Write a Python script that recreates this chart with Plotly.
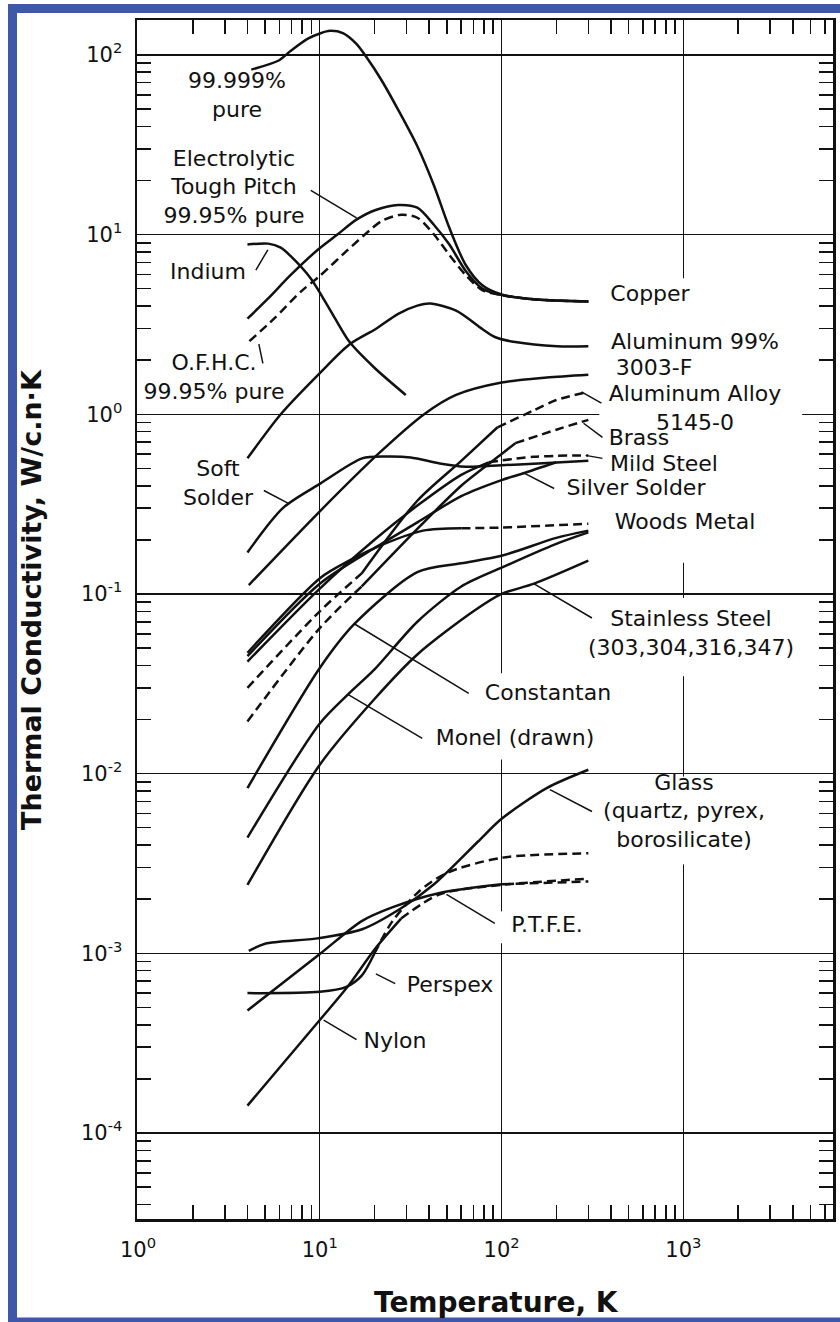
import numpy as np
import plotly.graph_objects as go

# ---------------- data: temperature T [K], conductivity k [W/cm K] ----------------
cu_pure_T = [4.2, 5.9, 6.9, 8.6, 10.1, 11.4, 13.4, 15.9, 18, 21.9, 27, 34.4, 42.5, 51.6, 63.5, 78.3, 100, 155, 300]
cu_pure_k = [82.8, 92.7, 105, 123, 132, 136, 132, 115, 97.5, 72, 49.4, 31, 18.7, 10.9, 6.77, 5.22, 4.64, 4.35, 4.24]

cu_etp_T = [4.0, 5.2, 6.9, 9.75, 12.5, 15.9, 20.3, 27, 34.4, 42.5, 51.6, 63.5, 78.3, 100, 155, 300]
cu_etp_k = [3.40, 4.41, 5.94, 8.23, 10.0, 12.1, 13.7, 14.6, 14.1, 11.3, 8.8, 6.27, 5.0, 4.6, 4.35, 4.24]

cu_ofhc_T = [4.1, 5.6, 7.9, 10.1, 14.1, 18.7, 21.9, 28, 34.4, 42.5, 51.6, 63.5, 78.3, 100, 155, 300]
cu_ofhc_k = [2.55, 3.40, 4.83, 5.94, 8.13, 10.5, 11.9, 12.9, 12.4, 10.0, 7.7, 5.94, 4.9, 4.6, 4.35, 4.24]

indium_T = [4.0, 5.2, 6.1, 6.9, 8.9, 11.9, 14.6, 19.9, 29.7]
indium_k = [8.8, 8.9, 8.45, 7.6, 5.71, 3.53, 2.52, 1.82, 1.28]

al99_T = [4.0, 6.1, 10.1, 14.6, 20.3, 27, 34.4, 40.4, 56.2, 78.3, 91.8, 119, 202, 300]
al99_k = [0.568, 1.0, 1.71, 2.45, 2.98, 3.62, 4.02, 4.13, 3.77, 2.98, 2.69, 2.52, 2.39, 2.39]

al3003_T = [4.07, 10.1, 21.1, 37.5, 56.2, 100, 177, 300]
al3003_k = [0.112, 0.291, 0.605, 1.0, 1.28, 1.50, 1.60, 1.66]

al5145_T = [4, 10, 17, 34.4, 60, 95, 150, 200, 300]
al5145_k = [0.030, 0.080, 0.13, 0.33, 0.55, 0.846, 1.05, 1.2, 1.33]

brass_T = [4, 10, 17, 34.4, 60, 100, 119, 200, 300]
brass_k = [0.0195, 0.0645, 0.11, 0.23, 0.40, 0.60, 0.69, 0.82, 0.93]

mild_steel_T = [4, 10, 20, 34.4, 60, 85, 150, 300]
mild_steel_k = [0.042, 0.107, 0.20, 0.31, 0.46, 0.54, 0.58, 0.59]

silver_solder_T = [4, 10, 20, 34.4, 60, 100, 131, 200]
silver_solder_k = [0.045, 0.114, 0.18, 0.25, 0.35, 0.43, 0.468, 0.54]

soft_solder_T = [4.0, 6.3, 10.1, 17.1, 23, 31.6, 45.7, 63.5, 100, 150, 300]
soft_solder_k = [0.17, 0.302, 0.412, 0.568, 0.582, 0.575, 0.532, 0.51, 0.52, 0.53, 0.55]

woods_T = [4, 10.1, 14.5, 20, 37, 60, 100, 300]
woods_k = [0.047, 0.123, 0.153, 0.18, 0.225, 0.232, 0.234, 0.246]

constantan_T = [4, 10, 15.5, 34.4, 60, 100, 200, 300]
constantan_k = [0.0083, 0.0387, 0.068, 0.132, 0.148, 0.163, 0.205, 0.225]

monel_T = [4, 10, 14.3, 20, 34.4, 60, 100, 200, 300]
monel_k = [0.0044, 0.019, 0.0276, 0.038, 0.07, 0.11, 0.14, 0.19, 0.22]

stainless_T = [4, 10, 20, 34.4, 70, 100, 151, 300]
stainless_k = [0.0024, 0.0112, 0.026, 0.046, 0.08, 0.1, 0.114, 0.153]

glass_T = [4.07, 5, 9.7, 17.1, 28, 42.5, 74.5, 100, 177, 300]
glass_k = [0.00103, 0.00113, 0.00121, 0.00136, 0.00178, 0.00242, 0.0042, 0.0056, 0.0083, 0.0105]

ptfe_T = [4, 10, 17, 25, 45, 100, 300]
ptfe_k = [0.00048, 0.00099, 0.00151, 0.0018, 0.00216, 0.00242, 0.00251]

perspex_T = [4, 10, 14, 17, 20, 25, 35, 50, 100, 300]
perspex_k = [0.0006, 0.00061, 0.00065, 0.00075, 0.0010, 0.0015, 0.0022, 0.0028, 0.0034, 0.0036]

nylon_T = [4, 10, 14.1, 20.3, 28, 45.7, 100, 300]
nylon_k = [0.000142, 0.000425, 0.000644, 0.00107, 0.00156, 0.00213, 0.0024, 0.0026]

curve_labels = ["99.999%<br>pure", "Electrolytic<br>Tough Pitch<br>99.95% pure", "Indium",
                "O.F.H.C.<br>99.95% pure", "Soft<br>Solder", "Copper", "Aluminum 99%", "3003-F",
                "Aluminum Alloy<br>5145-0", "Brass", "Mild Steel", "Silver Solder", "Woods Metal",
                "Stainless Steel<br>(303,304,316,347)", "Constantan", "Monel (drawn)",
                "Glass<br>(quartz, pyrex,<br>borosilicate)", "P.T.F.E.", "Perspex", "Nylon"]

x_tick_vals = [1, 10, 100, 1000]
x_tick_text = ["10<sup>0</sup>", "10<sup>1</sup>", "10<sup>2</sup>", "10<sup>3</sup>"]
y_tick_vals = [1e-4, 1e-3, 1e-2, 1e-1, 1, 10, 100]
y_tick_text = ["10<sup>-4</sup>", "10<sup>-3</sup>", "10<sup>-2</sup>", "10<sup>-1</sup>",
               "10<sup>0</sup>", "10<sup>1</sup>", "10<sup>2</sup>"]

# ---------------- layout geometry / styles ----------------
W, H = 840, 1322
X0, X1, Y0, Y1 = 137, 833, 20, 1219          # plot frame in pixels
XR = [-0.0055, 3.823]
YR = [-4.479, 2.194]
INK = "#111111"
FONT = "DejaVu Sans"
LABEL_SIZE = 22

# label centre positions (pixels) -- same order as curve_labels
label_pos = [(237, 97), (234, 189), (208, 273), (214, 379), (218, 485), (650, 295), (695, 343),
             (654, 369), (695, 410), (639, 439), (664, 465), (636, 489), (685, 523), (691, 635),
             (548, 694), (515, 739), (684, 813), (547, 926), (450, 986), (395, 1042)]

# reference grid positions (pixel -> decade) used to place leader lines on curves
REF_XP = [137, 319, 507, 680]
REF_XD = [0, 1, 2, 3]
REF_YP = [54, 237, 414, 593, 772, 952, 1135]
REF_YD = [2, 1, 0, -1, -2, -3, -4]


def ref_to_data(px, py):
    lx = np.interp(px, REF_XP, REF_XD)
    if px > REF_XP[-1]:
        lx = 3 + (px - REF_XP[-1]) / 173.0
    ly = np.interp(py, REF_YP, REF_YD)
    return float(10 ** lx), float(10 ** ly)


def px_to_axis(px, py):
    lx = XR[0] + (px - X0) / (X1 - X0) * (XR[1] - XR[0])
    ly = YR[1] - (py - Y0) / (Y1 - Y0) * (YR[1] - YR[0])
    return float(10 ** lx), float(10 ** ly)


def paper(px, py):
    return (px - X0) / (X1 - X0), (Y1 - py) / (Y1 - Y0)


# (T, k, dashed below this T, dashed above this T)
curves = [
    (cu_pure_T, cu_pure_k, None, None),
    (cu_etp_T, cu_etp_k, None, None),
    (cu_ofhc_T, cu_ofhc_k, 1e9, None),
    (indium_T, indium_k, None, None),
    (al99_T, al99_k, None, None),
    (al3003_T, al3003_k, None, None),
    (al5145_T, al5145_k, 17, 95),
    (brass_T, brass_k, 17, 119),
    (mild_steel_T, mild_steel_k, None, 85),
    (silver_solder_T, silver_solder_k, None, None),
    (soft_solder_T, soft_solder_k, None, None),
    (woods_T, woods_k, None, 60),
    (constantan_T, constantan_k, None, None),
    (monel_T, monel_k, None, None),
    (stainless_T, stainless_k, None, None),
    (glass_T, glass_k, None, None),
    (ptfe_T, ptfe_k, None, 100),
    (perspex_T, perspex_k, None, 20),
    (nylon_T, nylon_k, None, 28),
]

fig = go.Figure()
LW = 2.5
DASH = "9px,5px"


def add_curve(T, k, dash_below, dash_above):
    T = list(T); k = list(k)
    n = len(T)
    i0 = 0
    parts = []
    if dash_below is not None:
        if dash_below >= T[-1]:
            parts.append((0, n - 1, DASH))
            i0 = n - 1
        else:
            j = next(j for j, t in enumerate(T) if t >= dash_below)
            parts.append((0, j, DASH))
            i0 = j
    if i0 < n - 1:
        if dash_above is not None:
            j = next(j for j, t in enumerate(T) if t >= dash_above)
            parts.append((i0, j, "solid"))
            parts.append((j, n - 1, DASH))
        else:
            parts.append((i0, n - 1, "solid"))
    for a, b, d in parts:
        fig.add_trace(go.Scatter(x=T[a:b + 1], y=k[a:b + 1], mode="lines",
                                 line=dict(color=INK, width=LW, dash=d, shape="spline", smoothing=0.8),
                                 hoverinfo="skip", showlegend=False))


for T, k, db, da in curves:
    add_curve(T, k, db, da)

# ---------------- curve labels as a text trace ----------------
lab_xy = [px_to_axis(px, py) for px, py in label_pos]
fig.add_trace(go.Scatter(x=[p[0] for p in lab_xy], y=[p[1] for p in lab_xy], text=curve_labels,
                         mode="text", textposition="middle center",
                         textfont=dict(family=FONT, size=LABEL_SIZE, color=INK),
                         hoverinfo="skip", showlegend=False, cliponaxis=False))

annotations = []
tx, ty = paper(496, 1302)
annotations.append(dict(text="Temperature, K", x=tx, y=ty, xref="paper", yref="paper", showarrow=False,
                        xanchor="center", yanchor="middle",
                        font=dict(family=FONT, size=28, color=INK, weight="bold")))
tx, ty = paper(31, 600)
annotations.append(dict(text="Thermal Conductivity, W/c.n\u00b7K", x=tx, y=ty, xref="paper", yref="paper",
                        showarrow=False, textangle=-90, xanchor="center", yanchor="middle",
                        font=dict(family=FONT, size=27, color=INK, weight="bold")))

# leader lines: (label end px, curve point px) in reference pixels
leaders = [
    ((310, 192), (357, 220)),
    ((255, 272), (267, 252)),
    ((262, 364), (258, 345)),
    ((263, 490), (288, 503)),
    ((583, 392), (602, 403)),
    ((585, 423), (603, 437)),
    ((587, 455), (603, 458)),
    ((557, 488), (527, 472)),
    ((593, 617), (538, 583)),
    ((473, 692), (355, 623)),
    ((425, 737), (348, 693)),
    ((593, 810), (553, 788)),
    ((500, 922), (450, 893)),
    ((397, 983), (377, 973)),
    ((357, 1040), (323, 1020)),
]
shapes = []
for (a, b) in leaders:
    x0, y0 = ref_to_data(*a)
    x1, y1 = ref_to_data(*b)
    shapes.append(dict(type="line", xref="x", yref="y", x0=x0, y0=y0, x1=x1, y1=y1,
                       line=dict(color=INK, width=1.5), layer="above"))

# gaps in grid lines (as in the original drawing), drawn between grid and traces
gaps = [((680, 280), (680, 562)), ((680, 597), (680, 675)), ((680, 775), (680, 863)),
        ((600, 414), (793, 414)), ((507, 672), (507, 758)), ((507, 910), (507, 942))]
for (a, b) in gaps:
    x0, y0 = ref_to_data(*a)
    x1, y1 = ref_to_data(*b)
    shapes.append(dict(type="line", xref="x", yref="y", x0=x0, y0=y0, x1=x1, y1=y1,
                       line=dict(color="white", width=5), layer="between"))

# blue frame of the picture
bx0, by0 = paper(12.5, 8.5)
bx1, by1 = paper(846, 1322)
shapes.append(dict(type="rect", xref="paper", yref="paper", x0=bx0, y0=by1, x1=bx1, y1=by0,
                   line=dict(color="#3E57A6", width=9), fillcolor="rgba(0,0,0,0)", layer="above"))

minor_x = [m * 10 ** e for e in range(0, 4) for m in range(2, 10)]
minor_y = [m * 10.0 ** e for e in range(-5, 3) for m in range(2, 10)]

axis_common = dict(type="log", showline=True, linecolor=INK, linewidth=2.5, mirror="allticks",
                   showgrid=True, gridcolor=INK, gridwidth=1.4, zeroline=False, automargin=False,
                   ticks="", tickfont=dict(family=FONT, size=21, color=INK),
                   minor=dict(tickmode="array", tickvals=None, ticks="inside", ticklen=14,
                              tickwidth=1.6, tickcolor=INK, showgrid=False))

xa = dict(axis_common)
xa.update(range=XR, tickmode="array", tickvals=x_tick_vals, ticktext=x_tick_text,
          minor=dict(axis_common["minor"], tickvals=minor_x), ticklabelstandoff=10)
ya = dict(axis_common)
ya.update(range=YR, tickmode="array", tickvals=y_tick_vals, ticktext=y_tick_text,
          minor=dict(axis_common["minor"], tickvals=minor_y), ticklabelstandoff=8)

fig.update_layout(width=W, height=H, margin=dict(l=X0, r=W - X1, t=Y0, b=H - Y1, pad=0),
                  paper_bgcolor="white", plot_bgcolor="white",
                  xaxis=xa, yaxis=ya, annotations=annotations, shapes=shapes,
                  font=dict(family=FONT, size=LABEL_SIZE, color=INK))

fig.write_html("out.html", config={"displayModeBar": False, "staticPlot": True},
               post_script="document.body.style.margin='0px';")
